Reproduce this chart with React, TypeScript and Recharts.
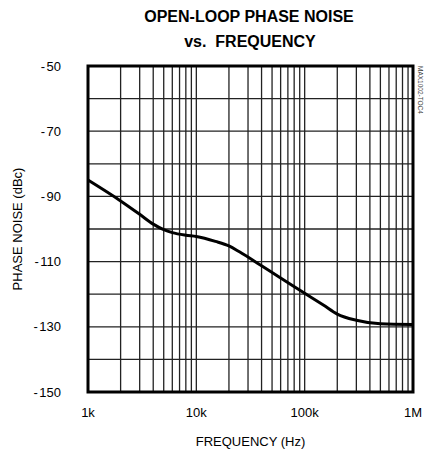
import React from 'react';
import {
  LineChart,
  Line,
  XAxis,
  YAxis,
  CartesianGrid,
  ReferenceArea
} from 'recharts';

// phase noise curve
const frequencies = [
  1000, 2000, 3000, 4000, 5000, 6000, 8000, 10000, 15000, 20000, 25000,
  40000, 60000, 100000, 150000, 200000, 300000, 500000, 1000000
];
const phaseNoise = [
  -85, -91.4, -95.5, -98.5, -100.2, -101.1, -101.9, -102.3, -103.8, -105.2, -107,
  -111.3, -115, -119.7, -123.4, -126.1, -128, -129.1, -129.3
];

const xGridTicks = [
  1000, 2000, 3000, 4000, 5000, 6000, 7000, 8000, 9000,
  10000, 20000, 30000, 40000, 50000, 60000, 70000, 80000, 90000,
  100000, 200000, 300000, 400000, 500000, 600000, 700000, 800000, 900000,
  1000000
];
const xTickLabels: Record<number, string> = {
  1000: '1k',
  10000: '10k',
  100000: '100k',
  1000000: '1M'
};
const yGridTicks = [-150, -140, -130, -120, -110, -100, -90, -80, -70, -60, -50];
const yTickLabels = [-50, -70, -90, -110, -130, -150];

const data = frequencies.map((f, i) => ({ f, pn: phaseNoise[i] }));

const FONT = '"Liberation Sans", Arial, Helvetica, sans-serif';

const XTick = (props: any) => {
  const { x, y, payload } = props;
  const label = xTickLabels[payload.value];
  if (!label) return null;
  return (
    <text x={x} y={y} dy="0.71em" textAnchor="middle" fontSize={13} fontFamily={FONT} fill="#000">
      {label}
    </text>
  );
};

const YTick = (props: any) => {
  const { x, y, payload } = props;
  if (!yTickLabels.includes(payload.value)) return null;
  return (
    <text x={x} y={y} dy="0.355em" textAnchor="end" fontSize={13} fontFamily={FONT} fill="#000">
      <tspan>-</tspan>
      <tspan dx={1.5}>{Math.abs(payload.value)}</tspan>
    </text>
  );
};

export default function App() {
  return (
    <div style={{ position: 'relative', width: 424, height: 452, background: '#fff' }}>
      <style>{'body{margin:0}'}</style>
      <LineChart
        width={424}
        height={452}
        data={data}
        margin={{ top: 66, right: 11, bottom: 0, left: 0 }}
      >
        <CartesianGrid stroke="#222" strokeWidth={1.3} />
        <XAxis
          dataKey="f"
          type="number"
          scale="log"
          domain={[1000, 1000000]}
          ticks={xGridTicks}
          interval={0}
          allowDataOverflow
          height={60}
          axisLine={false}
          tickLine={false}
          tickSize={0}
          tickMargin={16}
          tick={<XTick />}
          label={{
            value: 'FREQUENCY (Hz)',
            position: 'insideBottom',
            offset: 6,
            fontSize: 13,
            fontFamily: FONT,
            fill: '#000'
          }}
        />
        <YAxis
          type="number"
          domain={[-150, -50]}
          ticks={yGridTicks}
          interval={0}
          allowDataOverflow
          width={88}
          axisLine={false}
          tickLine={false}
          tickSize={0}
          tickMargin={27}
          tick={<YTick />}
          label={{
            value: 'PHASE NOISE (dBc)',
            angle: -90,
            position: 'insideLeft',
            offset: 17,
            fontSize: 13,
            fontFamily: FONT,
            fill: '#000',
            style: { textAnchor: 'middle' }
          }}
        />
        <Line
          type="monotone"
          dataKey="pn"
          stroke="#000"
          strokeWidth={3}
          dot={false}
          activeDot={false}
          isAnimationActive={false}
        />
        <ReferenceArea
          x1={1000}
          x2={1000000}
          y1={-150}
          y2={-50}
          fill="none"
          fillOpacity={0}
          stroke="#000"
          strokeWidth={3}
          ifOverflow="visible"
        />
      </LineChart>
      <svg
        width={424}
        height={452}
        style={{ position: 'absolute', left: 0, top: 0, pointerEvents: 'none' }}
      >
        <text x={249} y={21.5} textAnchor="middle" fontSize={16} fontWeight="bold" fontFamily={FONT}>
          OPEN-LOOP PHASE NOISE
        </text>
        <text
          x={250}
          y={46.5}
          textAnchor="middle"
          fontSize={16}
          fontWeight="bold"
          fontFamily={FONT}
          style={{ whiteSpace: 'pre' }}
        >
          {'vs.  FREQUENCY'}
        </text>
        <text
          x={418}
          y={66}
          transform="rotate(90 418 66)"
          fontSize={6.5}
          fontFamily={FONT}
          fill="#444"
        >
          MAX1002-TOC4
        </text>
      </svg>
    </div>
  );
}
